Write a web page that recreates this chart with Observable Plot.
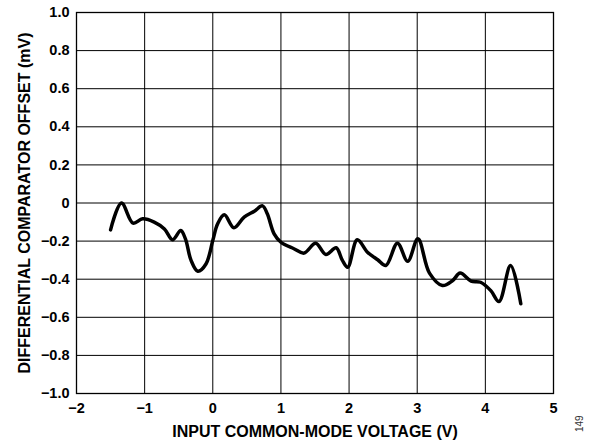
<!DOCTYPE html>
<html>
<head>
<meta charset="utf-8">
<script src="https://cdn.jsdelivr.net/npm/d3@7"></script>
<script src="https://cdn.jsdelivr.net/npm/@observablehq/plot@0.6"></script>
<style>
  html, body { margin: 0; padding: 0; background: #fff; }
  #wrap { position: relative; width: 592px; height: 444px; }
  #note { position: absolute; left: 574px; top: 432px; font: 10px "Liberation Sans", Arial, sans-serif; color: #333; transform: rotate(-90deg); transform-origin: left top; }
</style>
</head>
<body>
<div id="wrap"><div id="note">149</div></div>
<script>
const voltage = [-1.50, -1.34, -1.17, -1.03, -0.86, -0.71, -0.59, -0.47, -0.40, -0.32, -0.22, -0.10, 0.00, 0.07, 0.17, 0.31, 0.46, 0.61, 0.73, 0.80, 0.90, 1.00, 1.19, 1.34, 1.51, 1.66, 1.81, 1.90, 1.98, 2.12, 2.27, 2.42, 2.54, 2.71, 2.86, 3.01, 3.18, 3.37, 3.52, 3.63, 3.79, 3.93, 4.08, 4.20, 4.37, 4.52];
const offset = [-0.141, 0.000, -0.106, -0.083, -0.100, -0.136, -0.193, -0.144, -0.190, -0.300, -0.358, -0.320, -0.197, -0.110, -0.062, -0.130, -0.074, -0.043, -0.015, -0.057, -0.162, -0.206, -0.240, -0.263, -0.211, -0.270, -0.235, -0.300, -0.337, -0.193, -0.258, -0.298, -0.328, -0.211, -0.306, -0.188, -0.368, -0.433, -0.407, -0.368, -0.410, -0.416, -0.460, -0.517, -0.328, -0.529];
const xTicks = [-2, -1, 0, 1, 2, 3, 4, 5];
const yTicks = [1.0, 0.8, 0.6, 0.4, 0.2, 0, -0.2, -0.4, -0.6, -0.8, -1.0];
const xLabel = "INPUT COMMON-MODE VOLTAGE (V)";
const yLabel = "DIFFERENTIAL COMPARATOR OFFSET (mV)";

const data = voltage.map((v, i) => ({v, o: offset[i]}));
const minus = s => s.replace("-", "\u2212");
const fmtY = d => d === 0 ? "0" : minus(d.toFixed(1));
const fmtX = d => minus(String(d));

const chart = Plot.plot({
  width: 592,
  height: 444,
  marginLeft: 76,
  marginRight: 39,
  marginTop: 12,
  marginBottom: 51,
  style: { fontFamily: "'Liberation Sans', Arial, sans-serif", fontSize: "14px", fontWeight: "bold", color: "#000", background: "#fff" },
  x: { domain: [-2, 5] },
  y: { domain: [-1, 1] },
  marks: [
    Plot.gridX(xTicks, { stroke: "#000", strokeOpacity: 1, strokeWidth: 1 }),
    Plot.gridY(yTicks, { stroke: "#000", strokeOpacity: 1, strokeWidth: 1 }),
    Plot.frame({ stroke: "#000", strokeWidth: 1.3 }),
    Plot.axisX(xTicks, { tickSize: 0, tickPadding: 9, tickFormat: fmtX, fontSize: 14.5, fontWeight: "bold", label: null }),
    Plot.axisY(yTicks, { tickSize: 0, tickPadding: 7, tickFormat: fmtY, fontSize: 14.5, fontWeight: "bold", label: null }),
    Plot.text([xLabel], { text: d => d, frameAnchor: "bottom", textAnchor: "middle", dy: 43.5, fontSize: 16, fontWeight: "bold", fill: "#000" }),
    Plot.text([yLabel], { text: d => d, frameAnchor: "left", textAnchor: "middle", dx: -52, rotate: -90, fontSize: 16, fontWeight: "bold", fill: "#000" }),
    Plot.line(data, { x: "v", y: "o", stroke: "#000", strokeWidth: 3.5, curve: "catmull-rom", strokeLinejoin: "round", strokeLinecap: "round" })
  ]
});
document.getElementById("wrap").prepend(chart);
</script>
</body>
</html>
